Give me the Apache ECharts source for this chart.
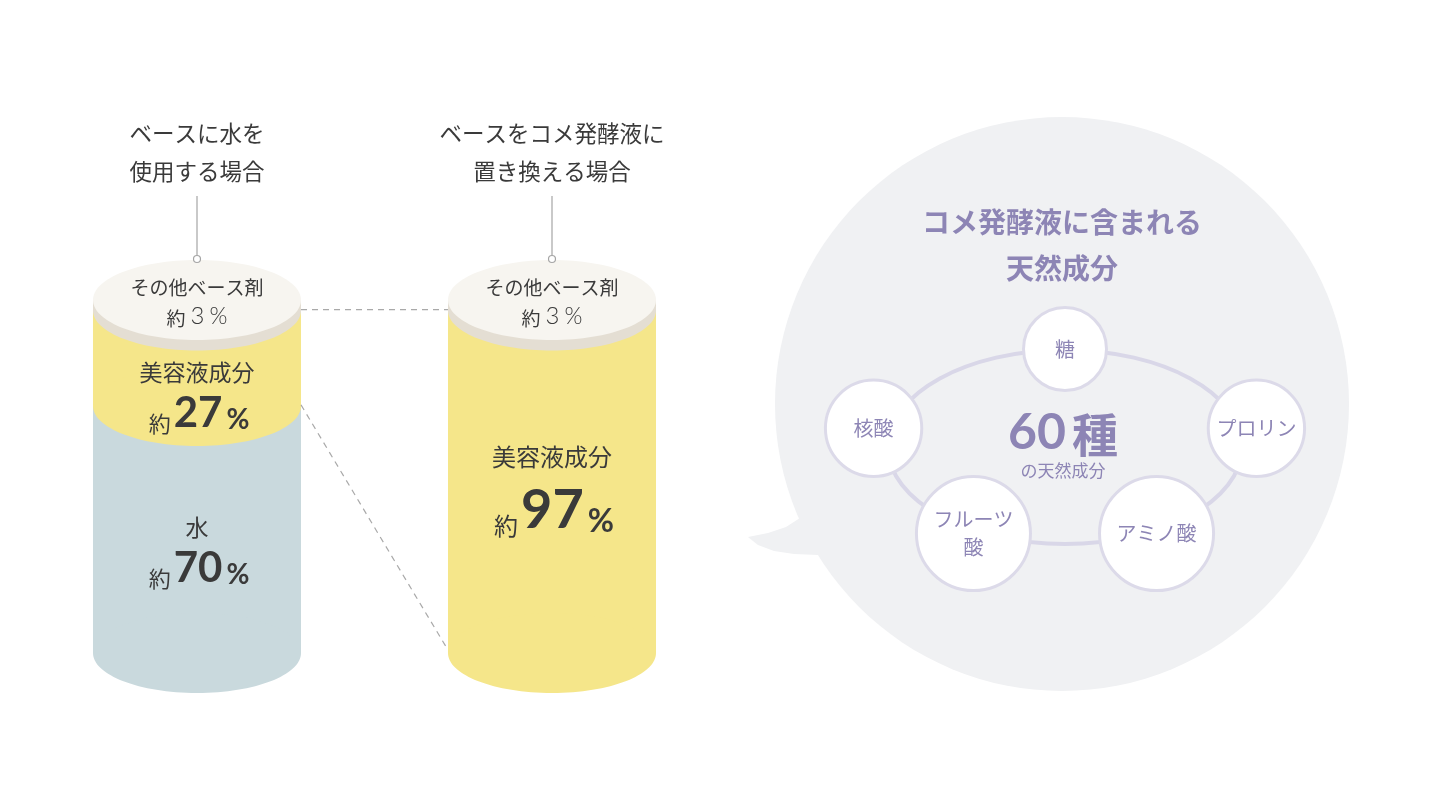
<!DOCTYPE html>
<html>
<head>
<meta charset="utf-8">
<script src="https://cdn.jsdelivr.net/npm/echarts@6/dist/echarts.min.js"></script>
<style>
html, body { margin: 0; background: #fff; }
#chart { width: 1440px; height: 810px; }
</style>
</head>
<body>
<div id="chart"></div>
<script>
// data
var cases = ['ベースに水を\n使用する場合', 'ベースをコメ発酵液に\n置き換える場合'];
var waterValues = [70, 0];
var serumValues = [27, 97];
var otherValues = [3, 3];
var segmentNames = ['水', '美容液成分', 'その他ベース剤'];
var ingredients = ['糖', 'プロリン', 'アミノ酸', 'フルーツ\n酸', '核酸'];
var ingredientCount = 60;
var bubbleTitle = 'コメ発酵液に含まれる\n天然成分';
var bubbleSub = 'の天然成分';

// style
var FONT = '"Noto Sans CJK JP", "Noto Sans", sans-serif';
var NUM_FONT = 'Lato, "Noto Sans", sans-serif';
var TEXT = '#3a3a3a';
var PURPLE = '#8d85b5';
var segColors = ['#c9d9dd', '#f5e68a', '#e4ded3'];
var capFace = '#f7f5f0';
var RY = 40;
var stacks = [waterValues, serumValues, otherValues];
//ラベル位置の微調整 [case][segment]
var labelShift = [[-2, 14, 0], [0, -25, 0]];

function cylinderItem(s) {
	return function(params, api) {
		var ci = api.value(0);
		var val = api.value(1);
		if(!val) return;
		var base = 0;
		for(var k = 0; k < s; k++) base += stacks[k][ci];
		var pTop = api.coord([ci, base + val]);
		var pBot = api.coord([ci, base]);
		var rx = api.size([1, 0])[0] * 0.293;
		var cx = pTop[0];
		var children = [{
			type: 'rect',
			shape: {x: cx - rx, y: pTop[1], width: rx * 2, height: pBot[1] - pTop[1]},
			style: {fill: segColors[s]}
		}, {
			type: 'ellipse',
			shape: {cx: cx, cy: pBot[1], rx: rx, ry: RY},
			style: {fill: segColors[s]}
		}];
		if(s == 2) {
			//上面
			children.push({
				type: 'ellipse',
				shape: {cx: cx, cy: pTop[1], rx: rx, ry: RY},
				style: {fill: capFace}
			});
			children.push({
				type: 'text',
				style: {
					x: cx, y: pTop[1] - 12, text: segmentNames[s],
					fill: TEXT, font: '19px ' + FONT, align: 'center', verticalAlign: 'middle'
				}
			});
			children.push({
				type: 'text',
				style: {
					x: cx, y: pTop[1] + 16, text: '{a|約}{n|' + val + '}{p|%}',
					align: 'center', verticalAlign: 'middle',
					rich: {
						a: {fill: TEXT, fontSize: 19, lineHeight: 22, fontFamily: FONT, verticalAlign: 'bottom', padding: [0, 5, 0, 0]},
						n: {fill: TEXT, fontSize: 24, lineHeight: 24, fontFamily: NUM_FONT, fontWeight: 300, verticalAlign: 'bottom', padding: [0, 5, 0, 0]},
						p: {fill: TEXT, fontSize: 23, lineHeight: 24, fontFamily: NUM_FONT, fontWeight: 300, verticalAlign: 'bottom'}
					}
				}
			});
			children.push({
				type: 'line',
				shape: {x1: cx, y1: pTop[1] - 104, x2: cx, y2: pTop[1] - RY - 4.5},
				style: {stroke: '#a5a5a5', lineWidth: 1.2}
			});
			children.push({
				type: 'circle',
				shape: {cx: cx, cy: pTop[1] - RY - 1, r: 3.5},
				style: {fill: '#fff', stroke: '#a5a5a5', lineWidth: 1.2}
			});
		} else {
			var big = ci == 1;
			var ny = (pTop[1] + pBot[1]) / 2 + labelShift[ci][s];
			children.push({
				type: 'text',
				style: {
					x: cx, y: ny, text: segmentNames[s],
					fill: TEXT, font: (big ? 24 : 23) + 'px ' + FONT, align: 'center', verticalAlign: 'middle'
				}
			});
			var ns = big ? 54 : 42;
			children.push({
				type: 'text',
				style: {
					x: cx + 2, y: ny + (big ? 54 : 41), text: '{a|約}{n|' + val + '}{p|%}',
					align: 'center', verticalAlign: 'middle',
					rich: {
						a: {fill: TEXT, fontSize: big ? 24 : 22, lineHeight: ns * 0.82, fontFamily: FONT, verticalAlign: 'bottom', padding: [0, 3, 0, 0]},
						n: {fill: TEXT, fontSize: ns, lineHeight: ns, fontFamily: NUM_FONT, fontWeight: 'bold', verticalAlign: 'bottom'},
						p: {fill: TEXT, fontSize: big ? 32 : 28, lineHeight: ns * 0.88, fontFamily: NUM_FONT, fontWeight: 'bold', verticalAlign: 'bottom', padding: [0, 0, 0, 4]}
					}
				}
			});
		}
		return {type: 'group', children: children};
	};
}

//破線
function connectorItem(params, api) {
	var rx = api.size([1, 0])[0] * 0.293;
	var a0 = api.coord([0, waterValues[0] + serumValues[0]]);
	var b0 = api.coord([1, waterValues[1] + serumValues[1]]);
	var a1 = api.coord([0, waterValues[0]]);
	var b1 = api.coord([1, waterValues[1]]);
	var st = {stroke: '#a9a9a9', lineWidth: 1.2, lineDash: [6, 5]};
	return {
		type: 'group',
		children: [
			{type: 'line', shape: {x1: a0[0] + rx, y1: a0[1] - 1, x2: b0[0] - rx, y2: b0[1] - 1}, style: st},
			{type: 'line', shape: {x1: a1[0] + rx, y1: a1[1] - 1, x2: b1[0] - rx, y2: b1[1] - 3}, style: st}
		]
	};
}

//成分の丸
var ring = {cx: 1065, cy: 447, rx: 177, ry: 97};
var nodeAngles = [90, 11, -62, -118, 169];
function nodeItem(params, api) {
	var i = params.dataIndex;
	var a = nodeAngles[i] * Math.PI / 180;
	var sin = Math.sin(a);
	var cx = ring.cx + 195 * Math.cos(a);
	var cy = ring.cy - 98 * sin;
	var r = 49.75 - 8.25 * sin;
	return {
		type: 'group',
		children: [{
			type: 'circle',
			shape: {cx: cx, cy: cy, r: r},
			style: {fill: '#fff', stroke: '#dcdae9', lineWidth: 3}
		}, {
			type: 'text',
			style: {
				x: cx, y: cy, text: ingredients[i], fill: PURPLE,
				font: '20px ' + FONT, lineHeight: 28, align: 'center', verticalAlign: 'middle'
			}
		}]
	};
}

var chart = echarts.init(document.getElementById('chart'));
var option = {
	backgroundColor: '#fff',
	animation: false,
	grid: {left: 19.5, width: 710, top: 300, bottom: 157},
	xAxis: {
		type: 'category',
		position: 'top',
		data: cases,
		axisLine: {show: false},
		axisTick: {show: false},
		axisLabel: {interval: 0, margin: 110, fontSize: 22.5, lineHeight: 38, color: TEXT, fontFamily: FONT}
	},
	yAxis: {type: 'value', min: 0, max: 100, show: false},
	graphic: [
		{type: 'circle', shape: {cx: 1062, cy: 404, r: 287}, style: {fill: '#f0f1f3'}},
		{type: 'polygon', shape: {points: [[830, 520], [800, 518], [786, 527], [768, 533], [748, 537], [758, 545], [774, 551], [794, 554], [818, 555], [835, 545]]}, style: {fill: '#f0f1f3'}},
		{type: 'ellipse', shape: ring, style: {fill: 'none', stroke: '#d9d7e8', lineWidth: 4}},
		{type: 'text', style: {x: 1062, y: 245, text: bubbleTitle, fill: PURPLE, font: 'bold 28px ' + FONT, lineHeight: 46, align: 'center', verticalAlign: 'middle'}},
		{type: 'text', style: {
			x: 1063, y: 433, text: '{n|' + ingredientCount + '}{k|種}', align: 'center', verticalAlign: 'middle',
			rich: {
				n: {fill: PURPLE, fontSize: 50, lineHeight: 50, fontFamily: NUM_FONT, fontWeight: 'bold', verticalAlign: 'bottom', padding: [0, 6, 0, 0]},
				k: {fill: PURPLE, fontSize: 46, lineHeight: 48, fontFamily: FONT, fontWeight: 'bold', verticalAlign: 'bottom'}
			}
		}},
		{type: 'text', style: {x: 1063, y: 471, text: bubbleSub, fill: PURPLE, font: '17px ' + FONT, align: 'center', verticalAlign: 'middle'}}
	],
	series: stacks.map(function(arr, s) {
		return {
			type: 'custom',
			name: segmentNames[s],
			clip: false,
			renderItem: cylinderItem(s),
			encode: {x: 0, y: 1},
			data: arr.map(function(v, i) { return [i, v]; })
		};
	}).concat([{
		type: 'custom',
		clip: false,
		renderItem: connectorItem,
		data: [[0, 0]]
	}, {
		type: 'custom',
		coordinateSystem: 'none',
		renderItem: nodeItem,
		data: ingredients.map(function(n, i) { return [i]; })
	}])
};
chart.setOption(option);
</script>
</body>
</html>
